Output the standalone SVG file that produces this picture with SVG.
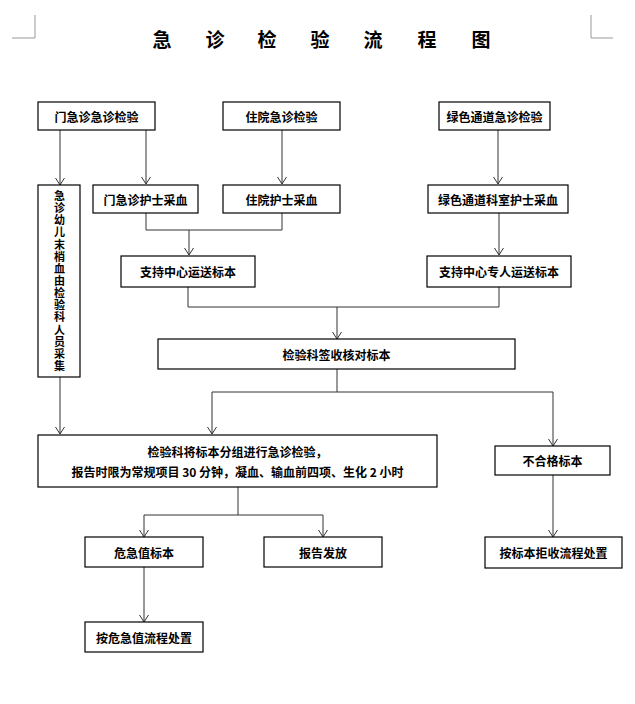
<svg xmlns="http://www.w3.org/2000/svg" width="635" height="704" viewBox="0 0 635 704">
<style>
  .box { fill: #fff; stroke: #000; stroke-width: 1.2; }
  .t { font-family: "Noto Sans CJK SC", "Liberation Sans", sans-serif; font-size: 12px; font-weight: bold; fill: #000; text-anchor: middle; dominant-baseline: central; }
  .tv { font-size: 11px; }
  .title { font-family: "Noto Sans CJK SC", "Liberation Sans", sans-serif; font-size: 19px; font-weight: bold; fill: #000; text-anchor: middle; dominant-baseline: central; }
  .ln { fill: none; stroke: #333; stroke-width: 1; }
  .arr { fill: none; stroke: #333; stroke-width: 1; marker-end: url(#ah); }
  .corner { fill: none; stroke: #999; stroke-width: 1; }
</style>
<defs>
  <marker id="ah" viewBox="0 0 8 10" refX="7" refY="5" markerWidth="8" markerHeight="10" markerUnits="userSpaceOnUse" orient="auto">
    <path d="M0,0.5 L7,5 L0,9.5" fill="none" stroke="#333" stroke-width="1"/>
  </marker>
</defs>
<rect x="0" y="0" width="635" height="704" fill="#fff"/>

<g id="corners">
  <path class="corner" d="M35,15 V38 H12"/>
  <path class="corner" d="M591,15 V38 H613"/>
</g>

<g id="title">
  <text class="title" x="162 215 267 320 373 427 481" y="38.5">急诊检验流程图</text>
</g>

<g id="connectors">
  <path class="arr" d="M60,130 V185"/>
  <path class="arr" d="M146,130 V184"/>
  <path class="arr" d="M282,130 V184"/>
  <path class="arr" d="M498,130 V184"/>
  <path class="ln" d="M146,213 V230 H282 V213"/>
  <path class="arr" d="M189,230 V255"/>
  <path class="arr" d="M499,213 V255"/>
  <path class="ln" d="M188,287 V307 H499 V287"/>
  <path class="arr" d="M337,307 V339"/>
  <path class="ln" d="M337,369 V392"/>
  <path class="arr" d="M212,392 V434"/>
  <path class="arr" d="M212,392 H553 V446"/>
  <path class="arr" d="M60,377 V434"/>
  <path class="ln" d="M238,487 V515"/>
  <path class="arr" d="M144,515 V537"/>
  <path class="arr" d="M144,515 H323 V537"/>
  <path class="arr" d="M144,567 V622"/>
  <path class="arr" d="M553,475 V537"/>
</g>

<g id="n1">
  <rect class="box" x="38" y="102" width="117" height="28"/>
  <text class="t" x="96.5" y="116">门急诊急诊检验</text>
</g>
<g id="n2">
  <rect class="box" x="223" y="102" width="117" height="28"/>
  <text class="t" x="281.5" y="116">住院急诊检验</text>
</g>
<g id="n3">
  <rect class="box" x="439" y="102" width="111" height="28"/>
  <text class="t" x="494.5" y="116">绿色通道急诊检验</text>
</g>
<g id="n4">
  <rect class="box" x="38" y="185" width="42" height="192"/>
  <text class="t tv" x="59.5 59.5 59.5 59.5 59.5 59.5 59.5 59.5 59.5 59.5 59.5 59.5 59.5 59.5 59.5" y="195 207.1 219.3 231.4 243.6 255.7 267.9 280 292.1 304.3 316.4 328.6 340.7 352.9 365">急诊幼儿末梢血由检验科人员采集</text>
</g>
<g id="n5">
  <rect class="box" x="93" y="185" width="105" height="28"/>
  <text class="t" x="145.5" y="199">门急诊护士采血</text>
</g>
<g id="n6">
  <rect class="box" x="223" y="185" width="117" height="28"/>
  <text class="t" x="281.5" y="199">住院护士采血</text>
</g>
<g id="n7">
  <rect class="box" x="428" y="185" width="140" height="28"/>
  <text class="t" x="498" y="199">绿色通道科室护士采血</text>
</g>
<g id="n8">
  <rect class="box" x="121" y="256" width="134" height="31"/>
  <text class="t" x="188" y="271.5">支持中心运送标本</text>
</g>
<g id="n9">
  <rect class="box" x="427" y="256" width="144" height="31"/>
  <text class="t" x="499" y="271.5">支持中心专人运送标本</text>
</g>
<g id="n10">
  <rect class="box" x="158" y="339" width="357" height="30"/>
  <text class="t" x="336.5" y="354">检验科签收核对标本</text>
</g>
<g id="n11">
  <rect class="box" x="38" y="435" width="399" height="52"/>
  <text class="t" x="237.5" y="451">检验科将标本分组进行急诊检验，</text>
  <text class="t" x="237.5" y="471">报告时限为常规项目 30 分钟，凝血、输血前四项、生化 2 小时</text>
</g>
<g id="n12">
  <rect class="box" x="495" y="446" width="115" height="29"/>
  <text class="t" x="552.5" y="460.5">不合格标本</text>
</g>
<g id="n13">
  <rect class="box" x="485" y="537" width="137" height="31"/>
  <text class="t" x="553.5" y="552.5">按标本拒收流程处置</text>
</g>
<g id="n14">
  <rect class="box" x="85" y="537" width="118" height="30"/>
  <text class="t" x="144" y="552">危急值标本</text>
</g>
<g id="n15">
  <rect class="box" x="264" y="537" width="118" height="30"/>
  <text class="t" x="323" y="552">报告发放</text>
</g>
<g id="n16">
  <rect class="box" x="85" y="622" width="118" height="30"/>
  <text class="t" x="144" y="637">按危急值流程处置</text>
</g>
</svg>
